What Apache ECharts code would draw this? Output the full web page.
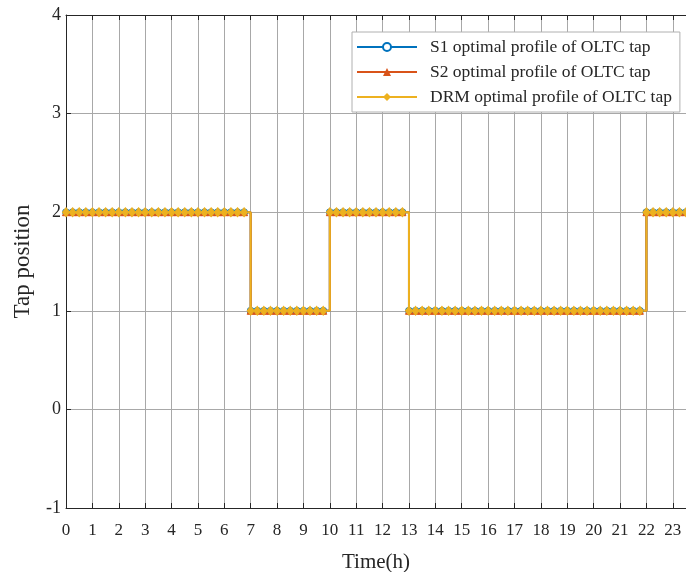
<!DOCTYPE html>
<html><head><meta charset="utf-8">
<script src="https://cdn.jsdelivr.net/npm/echarts@6/dist/echarts.min.js"></script>
<style>html,body{margin:0;padding:0;background:#fff}#c{width:686px;height:572px}</style>
</head><body><div id="c"></div>
<script>
var hours = [0,0.25,0.5,0.75,1,1.25,1.5,1.75,2,2.25,2.5,2.75,3,3.25,3.5,3.75,4,4.25,4.5,4.75,5,5.25,5.5,5.75,6,6.25,6.5,6.75,
7,7.25,7.5,7.75,8,8.25,8.5,8.75,9,9.25,9.5,9.75,
10,10.25,10.5,10.75,11,11.25,11.5,11.75,12,12.25,12.5,12.75,
13,13.25,13.5,13.75,14,14.25,14.5,14.75,15,15.25,15.5,15.75,16,16.25,16.5,16.75,17,17.25,17.5,17.75,18,18.25,18.5,18.75,19,19.25,19.5,19.75,20,20.25,20.5,20.75,21,21.25,21.5,21.75,
22,22.25,22.5,22.75,23,23.25,23.5,23.75];
var s1Tap = [2,2,2,2,2,2,2,2,2,2,2,2,2,2,2,2,2,2,2,2,2,2,2,2,2,2,2,2,
1,1,1,1,1,1,1,1,1,1,1,1,
2,2,2,2,2,2,2,2,2,2,2,2,
1,1,1,1,1,1,1,1,1,1,1,1,1,1,1,1,1,1,1,1,1,1,1,1,1,1,1,1,1,1,1,1,1,1,1,1,
2,2,2,2,2,2,2,2];
var s2Tap = [2,2,2,2,2,2,2,2,2,2,2,2,2,2,2,2,2,2,2,2,2,2,2,2,2,2,2,2,
1,1,1,1,1,1,1,1,1,1,1,1,
2,2,2,2,2,2,2,2,2,2,2,2,
1,1,1,1,1,1,1,1,1,1,1,1,1,1,1,1,1,1,1,1,1,1,1,1,1,1,1,1,1,1,1,1,1,1,1,1,
2,2,2,2,2,2,2,2];
var drmTap = [2,2,2,2,2,2,2,2,2,2,2,2,2,2,2,2,2,2,2,2,2,2,2,2,2,2,2,2,
1,1,1,1,1,1,1,1,1,1,1,1,
2,2,2,2,2,2,2,2,2,2,2,2,
1,1,1,1,1,1,1,1,1,1,1,1,1,1,1,1,1,1,1,1,1,1,1,1,1,1,1,1,1,1,1,1,1,1,1,1,
2,2,2,2,2,2,2,2];
var seriesNames = ['S1 optimal profile of OLTC tap','S2 optimal profile of OLTC tap','DRM optimal profile of OLTC tap'];
var xTicks = [0,1,2,3,4,5,6,7,8,9,10,11,12,13,14,15,16,17,18,19,20,21,22,23];
var yTicks = [-1,0,1,2,3,4];

function pairs(v){ return hours.map(function(h,i){ return [h, v[i]]; }); }
var FONT = '"Liberation Serif","Times New Roman",serif';
var AX = '#262626';
var chart = echarts.init(document.getElementById('c'), null, {renderer:'canvas'});
chart.setOption({
  animation:false,
  backgroundColor:'#fff',
  grid:{left:66,top:15,right:0,bottom:64,show:false,containLabel:false,outerBoundsMode:'none'},
  legend:{
    orient:'vertical', left:352, top:32, padding:[6,8,6,4],
    backgroundColor:'#fff', borderColor:'#b0b0b0', borderWidth:1,
    itemWidth:60, itemHeight:10, itemGap:7,
    textStyle:{fontFamily:FONT,fontSize:17.5,color:AX,padding:[0,0,0,8]},
    data:seriesNames
  },
  xAxis:[{
    type:'value', min:0, max:23.5, interval:1, position:'bottom',
    name:'Time(h)', nameLocation:'middle', nameGap:44,
    nameTextStyle:{fontFamily:FONT,fontSize:21,color:AX},
    axisLine:{onZero:false,lineStyle:{color:AX,width:1}},
    axisTick:{inside:true,length:5,lineStyle:{color:AX}},
    axisLabel:{fontFamily:FONT,fontSize:17,color:AX,margin:14,showMaxLabel:false,
      formatter:function(v){ return xTicks.indexOf(v)>=0 ? String(v) : ''; }},
    splitLine:{show:true,lineStyle:{color:'#a8a8a8',width:1}}
  },{
    type:'value', min:0, max:23.5, interval:1, position:'top',
    axisLine:{onZero:false,lineStyle:{color:AX,width:1}},
    axisTick:{inside:true,length:5,lineStyle:{color:AX}},
    axisLabel:{show:false}, splitLine:{show:false}
  }],
  yAxis:{
    type:'value', min:-1, max:4, interval:1,
    name:'Tap position', nameLocation:'middle', nameGap:32, nameRotate:90,
    nameTextStyle:{fontFamily:FONT,fontSize:23,color:AX},
    axisLine:{show:true,onZero:false,lineStyle:{color:AX,width:1}},
    axisTick:{show:true,inside:true,length:5,lineStyle:{color:AX}},
    axisLabel:{fontFamily:FONT,fontSize:18,color:AX,margin:5,
      formatter:function(v){ return yTicks.indexOf(v)>=0 ? String(v) : ''; }},
    splitLine:{show:true,lineStyle:{color:'#a8a8a8',width:1}}
  },
  series:[
    {name:seriesNames[0],type:'line',step:'end',data:pairs(s1Tap),xAxisIndex:0,
     color:'#0072BD',lineStyle:{width:2,color:'#0072BD'},symbol:'circle',symbolSize:6,
     itemStyle:{color:'#fff',borderColor:'#0072BD',borderWidth:1.5}},
    {name:seriesNames[1],type:'line',step:'end',data:pairs(s2Tap),xAxisIndex:0,
     color:'#D95319',lineStyle:{width:2,color:'#D95319'},symbol:'triangle',symbolSize:7,
     itemStyle:{color:'#D95319',borderColor:'#D95319'}},
    {name:seriesNames[2],type:'line',step:'end',data:pairs(drmTap),xAxisIndex:0,
     color:'#EDB120',lineStyle:{width:2,color:'#EDB120'},symbol:'diamond',symbolSize:[7,9],
     itemStyle:{color:'#EDB120',borderColor:'#EDB120'}}
  ]
});
</script></body></html>
